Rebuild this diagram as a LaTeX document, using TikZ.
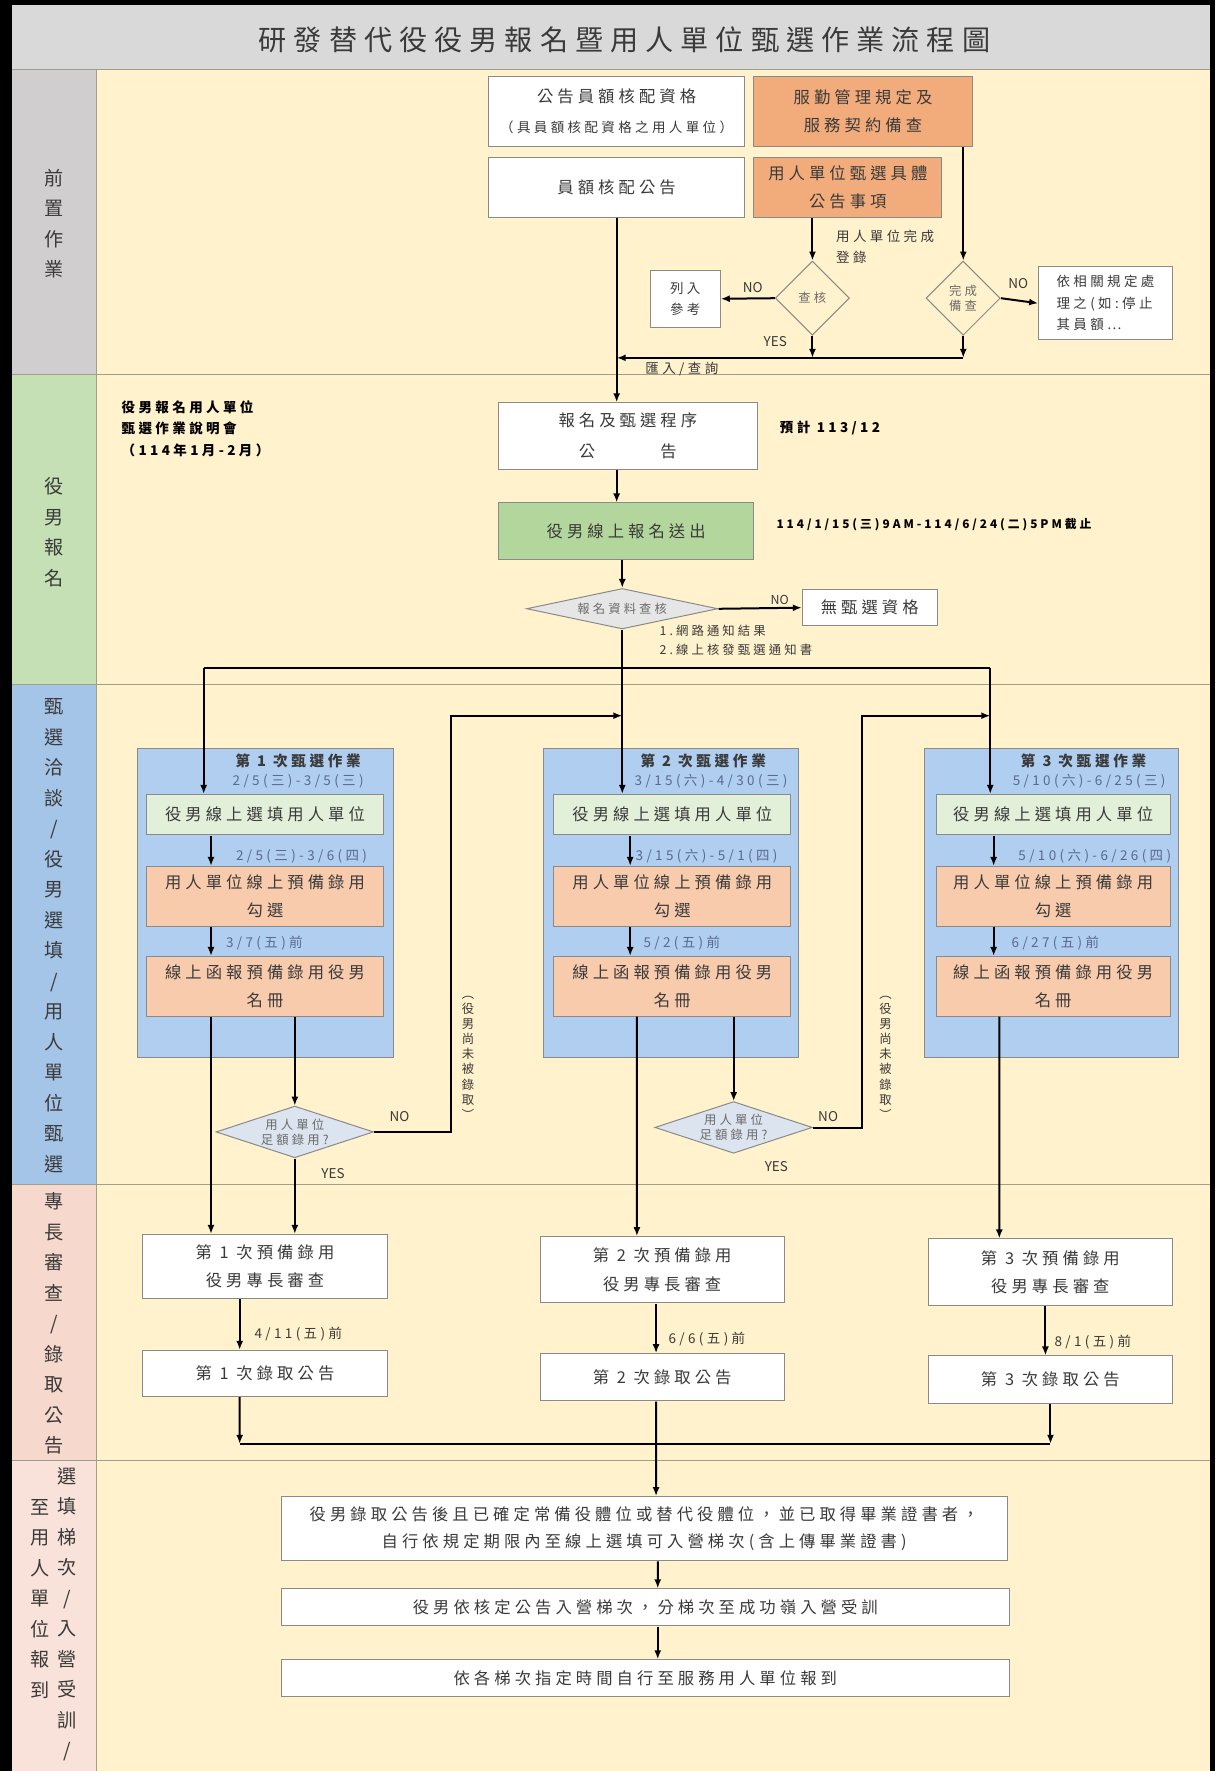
\documentclass[tikz,border=0pt]{standalone}
\usepackage{fontspec}
\setmainfont{Noto Sans CJK TC}[LetterSpace=25]
\newfontfamily\plainfont{Noto Sans CJK TC}
\usetikzlibrary{shapes.geometric,arrows.meta,calc}
\definecolor{cream}{HTML}{FFF2CC}
\definecolor{titlegray}{HTML}{D9D9D9}
\definecolor{lanegray}{HTML}{D0CECE}
\definecolor{lanegreen}{HTML}{C5E0B4}
\definecolor{laneblue}{HTML}{A4C4E8}
\definecolor{lanepink}{HTML}{F6D8CC}
\definecolor{sepline}{HTML}{A09F8C}
\definecolor{boxline}{HTML}{8A8A8A}
\definecolor{ink}{HTML}{3A3A3A}
\definecolor{orangeA}{HTML}{F2AC7C}
\definecolor{orangeB}{HTML}{F8CBAD}
\definecolor{greenA}{HTML}{B2D69C}
\definecolor{greenB}{HTML}{E2F0D9}
\definecolor{grpblue}{HTML}{B0CEF0}
\definecolor{diagray}{HTML}{E7E6E6}
\definecolor{diablue}{HTML}{DCE4F0}
\definecolor{datecol}{HTML}{5A6A8C}
\newcommand{\titlefont}{\fontsize{25}{30}\selectfont}
\newcommand{\boxfont}{\fontsize{14.5}{25}\selectfont}
\newcommand{\notefont}{\fontsize{12}{19}\selectfont}
\newcommand{\tinytext}{\fontsize{11}{13.5}\selectfont}
\newcommand{\lanefont}{\fontsize{17}{27.1}\selectfont}
\newcommand{\datefont}{\fontsize{12}{14}\selectfont}
\newcommand{\periodfont}{\fontsize{10.5}{13}\selectfont\bfseries}

\begin{document}
\begin{tikzpicture}[x=1pt,y=-1pt,scale=1.125,transform shape,
    box/.style={draw=boxline,line width=1pt,fill=white,inner sep=0pt,align=center,text=ink,font=\boxfont},
    dia/.style={draw=boxline,line width=1pt,shape=diamond,fill=cream,inner sep=0pt,align=center,text=ink!75,font=\tinytext},
    grp/.style={draw=boxline,line width=1pt,fill=grpblue,inner sep=0pt},
    gtitle/.style={inner sep=0pt,text=ink,font=\fontsize{13}{16}\selectfont\bfseries},
    date/.style={inner sep=0pt,text=datecol,font=\datefont},
    note/.style={inner sep=0pt,align=left,text=ink,font=\notefont},
    yesno/.style={inner sep=0pt,text=ink,font=\plainfont\fontsize{12}{14}\selectfont},
    vnote/.style={inner sep=0pt,align=center,text=ink,font=\tinytext},
    lane/.style={inner sep=0pt,align=center,text=ink,font=\lanefont},
    arr/.style={line width=2pt,-{Latex[length=9pt,width=7pt]}},
    ln/.style={line width=2pt},
    sep/.style={sepline,line width=1.2pt}]
\useasboundingbox (0,0) rectangle (1080,1574);
\fill[black] (0,0) rectangle (1080,1574);
\fill[cream] (10.7,4.4) rectangle (1075.5,1574);
\fill[titlegray] (10.7,4.4) rectangle (1075.5,62);
\fill[lanegray] (10.7,62) rectangle (86,333);
\fill[lanegreen] (10.7,333) rectangle (86,608);
\fill[laneblue] (10.7,608) rectangle (86,1053);
\fill[lanepink] (10.7,1053) rectangle (86,1298);
\fill[lanepink!75!white] (10.7,1298) rectangle (86,1574);
\draw[sep] (10.7,62) -- (1075.5,62);
\draw[sep] (10.7,333) -- (1075.5,333);
\draw[sep] (10.7,608) -- (1075.5,608);
\draw[sep] (10.7,1053) -- (1075.5,1053);
\draw[sep] (10.7,1298) -- (1075.5,1298);
\draw[sep] (86,62) -- (86,1574);

\node[inner sep=0pt,text=ink,font=\titlefont] (title) at (555,35) {研發替代役役男報名暨用人單位甄選作業流程圖};

\node[lane] (lab1) at (48,199) {前\\置\\作\\業};
\node[lane] (lab2) at (48,473) {役\\男\\報\\名};
\node[lane] (lab3) at (48,831.5) {甄\\選\\洽\\談\\/\\役\\男\\選\\填\\/\\用\\人\\單\\位\\甄\\選};
\node[lane] (lab4) at (48,1176.5) {專\\長\\審\\查\\/\\錄\\取\\公\\告};
\node[lane] (lab5a) at (60,1434.5) {選\\填\\梯\\次\\/\\入\\營\\受\\訓\\/};
\node[lane] (lab5b) at (36,1421) {至\\用\\人\\單\\位\\報\\到};

\node[box,minimum width=228,minimum height=62] (qual) at (548,99) {公告員額核配資格\\[1pt]{\notefont（具員額核配資格之用人單位）}};
\node[box,fill=orangeA,minimum width=194,minimum height=62] (duty) at (767,99) {服勤管理規定及\\服務契約備查};
\node[box,minimum width=228,minimum height=53] (ann) at (548,166.5) {員額核配公告};
\node[box,fill=orangeA,minimum width=167,minimum height=53] (spec) at (753.5,166.5) {用人單位甄選具體\\公告事項};
\node[note,anchor=north west] (reg) at (743,204) {用人單位完成\\登錄};
\node[dia,minimum width=66,minimum height=66] (chk) at (722,265) {查核};
\node[dia,minimum width=66,minimum height=66] (done) at (856,265) {完成\\備查};
\node[box,font=\notefont,minimum width=62,minimum height=51] (ref) at (609,265.5) {列入\\參考};
\node[box,font=\notefont,align=left,minimum width=119,minimum height=65] (rule) at (982.5,269.5) {依相關規定處\\理之(如:停止\\其員額…};
\node[yesno] (no1) at (669,256) {NO};
\node[yesno] (no2) at (905,252) {NO};
\node[yesno] (yes1) at (689,304) {YES};
\node[note] (imp) at (606,328) {匯入/查詢};
\coordinate (j1) at (722,318);
\coordinate (j2) at (856,318);
\coordinate (j0) at (548,318);

\node[note,font=\notefont\bfseries,text=black,anchor=north west,text depth=0pt] (brief) at (108,356) {役男報名用人單位\\甄選作業說明會\\（114年1月-2月）};
\node[box,minimum width=230,minimum height=59] (sign) at (558,387.5) {報名及甄選程序\\[2pt]公\hspace{4em}告};
\node[note,font=\notefont\bfseries,text=black,anchor=west] (plan) at (693,380) {預計 113/12};
\node[box,fill=greenA,minimum width=227,minimum height=50] (send) at (556.5,472) {役男線上報名送出};
\node[note,font=\periodfont,text=black,anchor=west] (due) at (690,466) {114/1/15(三)9AM-114/6/24(二)5PM截止};
\node[dia,fill=diagray,aspect=4.7,minimum width=170,minimum height=36] (scr) at (553,541) {報名資料查核};
\node[box,minimum width=120,minimum height=32] (nq) at (773,540) {無甄選資格};
\node[yesno,font=\plainfont\tinytext] (no3) at (693,533) {NO};
\node[note,font=\tinytext,anchor=north west] (msg) at (586,555) {1.網路通知結果\\[4pt]2.線上核發甄選通知書};
\coordinate (d1) at (181,594);
\coordinate (d3) at (880,594);

\node[grp,minimum width=228,minimum height=275] (g1) at (236,802.5) {};
\node[gtitle] (t1) at (265,676) {第 1 次甄選作業};
\node[date] (a1) at (265,694) {2/5(三)-3/5(三)};
\node[box,fill=greenB,minimum width=211,minimum height=36] (sel1) at (235.5,724) {役男線上選填用人單位};
\node[date] (b1) at (268,761) {2/5(三)-3/6(四)};
\node[box,fill=orangeB,minimum width=211,minimum height=53] (pick1) at (235.5,796.5) {用人單位線上預備錄用\\勾選};
\node[date] (c1) at (235,838) {3/7(五)前};
\node[box,fill=orangeB,minimum width=211,minimum height=53] (list1) at (235.5,876.5) {線上函報預備錄用役男\\名冊};

\node[grp,minimum width=227,minimum height=275] (g2) at (596.5,802.5) {};
\node[gtitle] (t2) at (625,676) {第 2 次甄選作業};
\node[date] (a2) at (632,694) {3/15(六)-4/30(三)};
\node[box,fill=greenB,minimum width=211,minimum height=36] (sel2) at (597.5,724) {役男線上選填用人單位};
\node[date] (b2) at (628,761) {3/15(六)-5/1(四)};
\node[box,fill=orangeB,minimum width=211,minimum height=53] (pick2) at (597.5,796.5) {用人單位線上預備錄用\\勾選};
\node[date] (c2) at (606,838) {5/2(五)前};
\node[box,fill=orangeB,minimum width=211,minimum height=53] (list2) at (597.5,876.5) {線上函報預備錄用役男\\名冊};

\node[grp,minimum width=225,minimum height=275] (g3) at (934.5,802.5) {};
\node[gtitle] (t3) at (963,676) {第 3 次甄選作業};
\node[date] (a3) at (968,694) {5/10(六)-6/25(三)};
\node[box,fill=greenB,minimum width=208,minimum height=36] (sel3) at (936,724) {役男線上選填用人單位};
\node[date] (b3) at (973,761) {5/10(六)-6/26(四)};
\node[box,fill=orangeB,minimum width=208,minimum height=53] (pick3) at (936,796.5) {用人單位線上預備錄用\\勾選};
\node[date] (c3) at (938,838) {6/27(五)前};
\node[box,fill=orangeB,minimum width=208,minimum height=53] (list3) at (936,876.5) {線上函報預備錄用役男\\名冊};

\node[dia,fill=diablue,aspect=3,minimum width=140,minimum height=46] (ok1) at (262,1006) {用人單位\\足額錄用?};
\node[dia,fill=diablue,aspect=3,minimum width=140,minimum height=46] (ok2) at (652,1002) {用人單位\\足額錄用?};
\node[yesno] (no4) at (355,992) {NO};
\node[yesno] (no5) at (736,992) {NO};
\node[yesno] (yes2) at (296,1043) {YES};
\node[yesno] (yes3) at (690,1037) {YES};
\node[vnote] (wait1) at (416,940) {︵\\役\\男\\尚\\未\\被\\錄\\取\\︶};
\node[vnote] (wait2) at (787,940) {︵\\役\\男\\尚\\未\\被\\錄\\取\\︶};
\coordinate (n1) at (401,636);
\coordinate (n2) at (766,636);

\node[box,minimum width=218,minimum height=57] (prep1) at (235.5,1125.5) {第 1 次預備錄用\\役男專長審查};
\node[box,minimum width=217,minimum height=59] (prep2) at (588.5,1128.5) {第 2 次預備錄用\\役男專長審查};
\node[box,minimum width=217,minimum height=59] (prep3) at (933.5,1130.5) {第 3 次預備錄用\\役男專長審查};
\node[note,anchor=west] (e1) at (226,1186) {4/11(五)前};
\node[note,anchor=west] (e2) at (594,1190) {6/6(五)前};
\node[note,anchor=west] (e3) at (937,1193) {8/1(五)前};
\node[box,minimum width=218,minimum height=41] (pub1) at (235.5,1220.5) {第 1 次錄取公告};
\node[box,minimum width=217,minimum height=42] (pub2) at (588.5,1224) {第 2 次錄取公告};
\node[box,minimum width=217,minimum height=42] (pub3) at (933.5,1226) {第 3 次錄取公告};
\coordinate (m1) at (213,1283);
\coordinate (m3) at (933.5,1283);

\node[box,minimum width=645,minimum height=57] (fin1) at (572.5,1358.5) {役男錄取公告後且已確定常備役體位或替代役體位，並已取得畢業證書者，\\[-1pt]自行依規定期限內至線上選填可入營梯次(含上傳畢業證書)};
\node[box,minimum width=647,minimum height=33] (fin2) at (573.5,1428.5) {役男依核定公告入營梯次，分梯次至成功嶺入營受訓};
\node[box,minimum width=647,minimum height=33] (fin3) at (573.5,1491.5) {依各梯次指定時間自行至服務用人單位報到};

\draw[arr] (spec.south -| chk.north) -- (chk.north);
\draw[arr] (duty.south -| done.north) -- (done.north);
\draw[arr] (chk.west) -- (ref.east);
\draw[arr] (done.east) -- (rule.west);
\draw[arr] (chk.south) -- (j1);
\draw[arr] (done.south) -- (j2);
\draw[arr] (j2) -- (j0);
\draw[arr] (ann.south) -- (ann.south |- sign.north);
\draw[arr] (sign.south -| ann.south) -- (ann.south |- send.north);
\draw[arr] (send.south -| scr.north) -- (scr.north);
\draw[arr] (scr.east) -- (nq.west);
\draw[arr] (scr.south) -- (scr.south |- sel2.north);
\draw[ln] (d1) -- (d3);
\draw[arr] (d1) -- (d1 |- sel1.north);
\draw[arr] (d3) -- (d3 |- sel3.north);

\draw[arr] ($(sel1.south)+(-48,0)$) -- ($(pick1.north)+(-48,0)$);
\draw[arr] ($(pick1.south)+(-48,0)$) -- ($(list1.north)+(-48,0)$);
\draw[arr] ($(sel2.south)+(-37.5,0)$) -- ($(pick2.north)+(-37.5,0)$);
\draw[arr] ($(pick2.south)+(-37.5,0)$) -- ($(list2.north)+(-37.5,0)$);
\draw[arr] ($(sel3.south)+(-53,0)$) -- ($(pick3.north)+(-53,0)$);
\draw[arr] ($(pick3.south)+(-53,0)$) -- ($(list3.north)+(-53,0)$);

\draw[arr] ($(list1.south)+(-48,0)$) -- ($(prep1.north)+(-48,0)$);
\draw[arr] (list1.south -| ok1.north) -- (ok1.north);
\draw[arr] (ok1.south) -- (ok1.south |- prep1.north);
\draw[arr] (ok1.east) -| (n1) -- (scr.south |- n1);
\draw[arr] ($(list2.south)+(-31.5,0)$) -- ($(prep2.north)+(-22.5,0)$);
\draw[arr] (list2.south -| ok2.north) -- (ok2.north);
\draw[arr] (ok2.east) -| (n2) -- (d3 |- n2);
\draw[arr] ($(list3.south)+(-48,0)$) -- ($(prep3.north)+(-45.5,0)$);

\draw[arr] ($(prep1.south)+(-22.5,0)$) -- ($(pub1.north)+(-22.5,0)$);
\draw[arr] ($(prep2.south)+(-5.5,0)$) -- ($(pub2.north)+(-5.5,0)$);
\draw[arr] ($(prep3.south)+(-4.5,0)$) -- ($(pub3.north)+(-4.5,0)$);
\draw[arr] ($(pub1.south)+(-22.5,0)$) -- (m1);
\draw[arr] (pub3.south) -- (m3);
\draw[ln] (m1) -- (m3);
\draw[arr] ($(pub2.south)+(-5.5,0)$) -- ($(fin1.north)+(10.5,0)$);
\draw[arr] ($(fin1.south)+(12,0)$) -- ($(fin2.north)+(11,0)$);
\draw[arr] ($(fin2.south)+(11,0)$) -- ($(fin3.north)+(11,0)$);
\end{tikzpicture}
\end{document}
